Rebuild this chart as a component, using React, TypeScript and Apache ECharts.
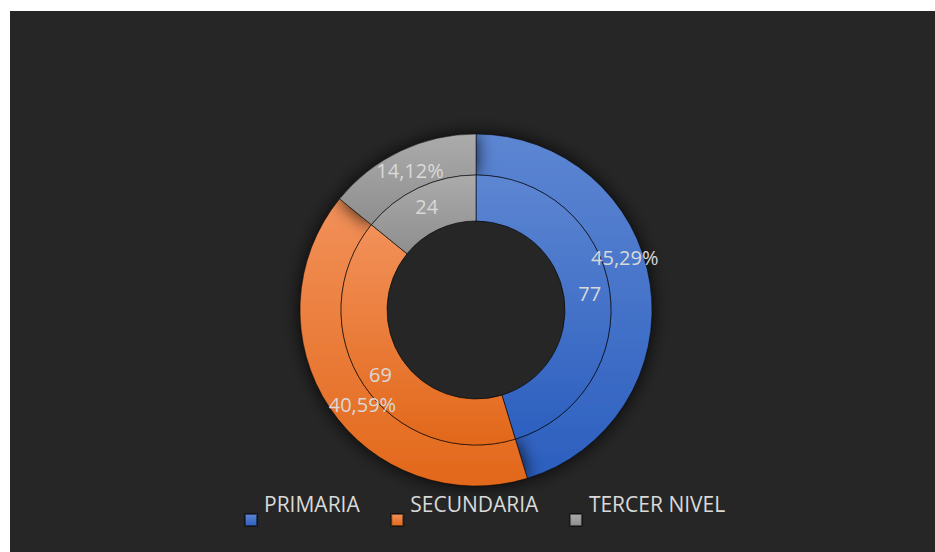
import React, { useEffect, useRef } from "react";
import * as echarts from "echarts";

const categories = ["PRIMARIA", "SECUNDARIA", "TERCER NIVEL"];
const counts = [77, 69, 24];
const topColors = ["#5d86d2", "#f2915a", "#ababab"];
const bottomColors = ["#2c5fbf", "#e2681a", "#8e8e8e"];
const outerLabelOffsets = [[-8, -29], [18, 6], [2, 4]];

export default function App() {
  const ref = useRef<HTMLDivElement>(null);
  useEffect(() => {
    if (!ref.current) return;
    const chart = echarts.init(ref.current, undefined, { renderer: "svg" });
    const grad = (i: number) =>
      new echarts.graphic.LinearGradient(0, 0, 0, 1, [
        { offset: 0, color: topColors[i] },
        { offset: 1, color: bottomColors[i] },
      ]);
    const mk = (i: number, offset?: number[]) => ({
      name: categories[i],
      value: counts[i],
      itemStyle: { color: grad(i) },
      ...(offset ? { label: { offset } } : {}),
    });
    const textColor = "#d9d9d9";
    const font = "'Open Sans', sans-serif";
    const center = [466, 299];
    const outerR = [135, 176];
    const innerR = [89, 135];
    const common = {
      type: "pie" as const,
      center,
      startAngle: 90,
      clockwise: true,
      avoidLabelOverlap: false,
      labelLine: { show: false },
      emphasis: { disabled: true },
    };
    const pctFmt = (p: any) => p.percent.toFixed(2).replace(".", ",") + "%";
    chart.setOption({
      animation: false,
      backgroundColor: "#262626",
      legend: {
        data: categories,
        left: 229,
        top: 472,
        itemWidth: 12,
        itemHeight: 12,
        itemGap: 30.5,
        icon: "rect",
        formatter: (n: string) => n + "\n",
        textStyle: {
          color: textColor,
          fontFamily: font,
          fontSize: 21,
          lineHeight: 32,
          padding: [0, 0, 0, 2],
        },
      },
      series: [
        {
          ...common,
          name: "outer",
          radius: outerR,
          itemStyle: {
            borderColor: "rgba(0,0,0,0.5)",
            borderWidth: 1,
            shadowBlur: 18,
            shadowColor: "rgba(0,0,0,0.85)",
          },
          label: { show: false },
          data: counts.map((_, i) => mk(i)),
        },
        {
          ...common,
          name: "inner",
          radius: innerR,
          itemStyle: {
            borderColor: "rgba(0,0,0,0.6)",
            borderWidth: 1,
          },
          label: {
            show: true,
            position: "inside",
            color: textColor,
            fontFamily: font,
            fontSize: 20,
            formatter: (p: any) => String(p.value),
          },
          data: counts.map((_, i) => mk(i)),
        },
        {
          ...common,
          name: "outerLabels",
          radius: outerR,
          silent: true,
          itemStyle: { color: "transparent", borderWidth: 0 },
          label: {
            show: true,
            position: "inside",
            color: textColor,
            fontFamily: font,
            fontSize: 20,
            formatter: pctFmt,
          },
          data: counts.map((v, i) => ({
            name: categories[i],
            value: v,
            itemStyle: { color: "transparent" },
            label: { offset: outerLabelOffsets[i] },
          })),
        },
      ],
    });
    return () => chart.dispose();
  }, []);
  return (
    <div style={{ position: "fixed", left: 0, top: 0, width: 935, height: 552, background: "#ffffff" }}>
      <div ref={ref} style={{ position: "absolute", left: 10, top: 11, width: 925, height: 541 }} />
    </div>
  );
}
